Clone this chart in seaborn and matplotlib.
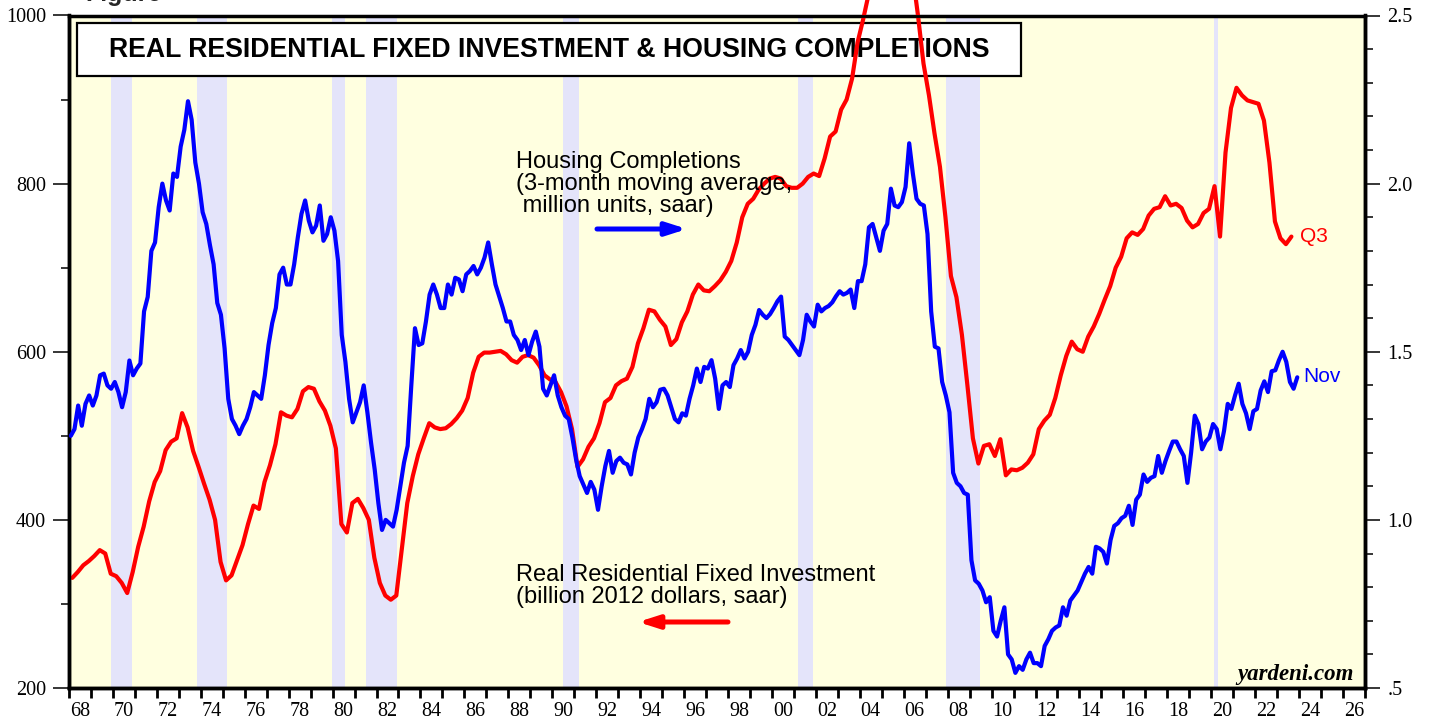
import numpy as np
import pandas as pd
import matplotlib
matplotlib.use("Agg")
import matplotlib.pyplot as plt
import seaborn as sns
from matplotlib.patches import Rectangle
from matplotlib.ticker import FixedLocator, FixedFormatter, NullFormatter

# ---------------- data ----------------
# Real residential fixed investment, quarterly, billion 2012 dollars (left axis)
rfi_1968_1977 = [331, 338, 346, 351, 357, 364, 360, 336, 333, 325, 313, 338,
                 368, 392, 422, 445, 458, 483, 493, 497, 527, 510, 482, 463,
                 443, 424, 400, 350, 328, 334, 352, 370, 395, 417, 413, 445,
                 465, 490, 528, 524]
rfi_1978_1987 = [522, 532, 553, 558, 556, 541, 530, 512, 485, 395, 385, 420,
                 425, 414, 400, 355, 325, 310, 305, 310, 365, 420, 452, 478,
                 497, 515, 510, 508, 509, 514, 521, 530, 545, 575, 594, 599,
                 599, 600, 601, 597]
rfi_1988_1997 = [590, 587, 594, 596, 593, 584, 572, 567, 564, 552, 535, 508,
                 463, 472, 487, 497, 515, 540, 545, 560, 565, 568, 582, 610,
                 628, 650, 648, 638, 630, 608, 615, 635, 648, 668, 680, 673,
                 672, 678, 685, 695]
rfi_1998_2007 = [708, 730, 760, 776, 782, 793, 800, 806, 808, 806, 797, 795,
                 795, 800, 808, 812, 809, 830, 856, 862, 888, 900, 925, 968,
                 995, 1025, 1050, 1070, 1085, 1095, 1100, 1095, 1080, 1050, 1000, 943,
                 905, 860, 820, 760]
rfi_2008_2017 = [690, 665, 620, 560, 497, 467, 488, 490, 476, 496, 453, 460,
                 459, 462, 468, 478, 508, 518, 525, 545, 572, 595, 612, 603,
                 600, 618, 630, 645, 662, 678, 700, 713, 735, 742, 739, 746,
                 762, 770, 772, 785]
rfi_2018_2023 = [774, 776, 771, 756, 748, 752, 765, 770, 797, 737, 837, 890,
                 914, 905, 899, 897, 895, 875, 825, 755, 735, 728, 737]

# Housing completions, 3-month moving average, million units saar (right axis),
# read every second month
hc_1968_1977 = [1.25, 1.27, 1.34, 1.28, 1.345, 1.37,
                1.34, 1.37, 1.43, 1.435, 1.40, 1.39,
                1.41, 1.38, 1.335, 1.38, 1.474, 1.43,
                1.45, 1.465, 1.62, 1.663, 1.80, 1.825,
                1.93, 2.00, 1.95, 1.92, 2.03, 2.02,
                2.11, 2.16, 2.245, 2.19, 2.063, 2.0,
                1.915, 1.88, 1.817, 1.76, 1.645, 1.61,
                1.51, 1.36, 1.30, 1.28, 1.255, 1.28,
                1.30, 1.335, 1.38, 1.37, 1.36, 1.43,
                1.52, 1.585, 1.63, 1.73, 1.75, 1.70]
hc_1978_1987 = [1.70, 1.76, 1.84, 1.91, 1.95, 1.89,
                1.855, 1.875, 1.935, 1.83, 1.85, 1.90,
                1.86, 1.77, 1.55, 1.47, 1.36, 1.29,
                1.32, 1.35, 1.40, 1.32, 1.23, 1.15,
                1.05, 0.97, 1.0, 0.99, 0.98, 1.03,
                1.10, 1.17, 1.22, 1.40, 1.57, 1.52,
                1.525, 1.59, 1.67, 1.70, 1.67, 1.63,
                1.63, 1.70, 1.67, 1.72, 1.715, 1.68,
                1.73, 1.74, 1.755, 1.73, 1.75, 1.78,
                1.825, 1.76, 1.70, 1.665, 1.63, 1.59]
hc_1988_1997 = [1.59, 1.55, 1.535, 1.505, 1.535, 1.49,
                1.53, 1.56, 1.515, 1.39, 1.37, 1.40,
                1.43, 1.37, 1.335, 1.31, 1.30, 1.245,
                1.18, 1.13, 1.105, 1.08, 1.113, 1.09,
                1.03, 1.10, 1.16, 1.205, 1.14, 1.175,
                1.185, 1.17, 1.165, 1.135, 1.20, 1.245,
                1.27, 1.30, 1.36, 1.335, 1.35, 1.387,
                1.39, 1.37, 1.335, 1.30, 1.29, 1.317,
                1.31, 1.36, 1.40, 1.45, 1.41, 1.455,
                1.45, 1.475, 1.42, 1.33, 1.40, 1.41]
hc_1998_2007 = [1.395, 1.46, 1.48, 1.505, 1.48, 1.50,
                1.55, 1.58, 1.624, 1.61, 1.60, 1.612,
                1.63, 1.65, 1.664, 1.545, 1.535, 1.52,
                1.505, 1.49, 1.535, 1.61, 1.59, 1.575,
                1.64, 1.62, 1.63, 1.636, 1.647, 1.665,
                1.68, 1.67, 1.675, 1.685, 1.63, 1.71,
                1.71, 1.76, 1.87, 1.88, 1.84, 1.80,
                1.86, 1.88, 1.985, 1.935, 1.93, 1.945,
                1.99, 2.12, 2.03, 1.955, 1.94, 1.935,
                1.85, 1.62, 1.515, 1.51, 1.41, 1.37]
hc_2008_2017 = [1.32, 1.14, 1.11, 1.10, 1.08, 1.075,
                0.88, 0.82, 0.81, 0.79, 0.755, 0.77,
                0.67, 0.653, 0.70, 0.74, 0.60, 0.585,
                0.545, 0.565, 0.554, 0.585, 0.605, 0.574,
                0.574, 0.565, 0.625, 0.645, 0.67, 0.68,
                0.686, 0.74, 0.715, 0.76, 0.775, 0.79,
                0.815, 0.84, 0.86, 0.84, 0.92, 0.915,
                0.905, 0.87, 0.94, 0.982, 0.99, 1.005,
                1.012, 1.042, 0.985, 1.06, 1.075, 1.135,
                1.113, 1.125, 1.13, 1.19, 1.14, 1.175]
hc_2018_2023 = [1.205, 1.233, 1.233, 1.21, 1.19, 1.11,
                1.20, 1.31, 1.285, 1.21, 1.233, 1.245,
                1.285, 1.27, 1.21, 1.265, 1.345, 1.33,
                1.37, 1.405, 1.345, 1.317, 1.27, 1.323,
                1.33, 1.385, 1.412, 1.38, 1.442, 1.445,
                1.475, 1.50, 1.47, 1.41, 1.39, 1.424]

# NBER recessions (decimal years)
recession_start = [1969.92, 1973.83, 1979.97, 1981.5, 1990.5, 2001.17, 2007.92, 2020.12]
recession_end = [1970.88, 1975.2, 1980.55, 1982.92, 1991.2, 2001.88, 2009.47, 2020.3]

year_ticks = list(range(1968, 2028))
year_labels = [f"{y % 100:02d}" for y in range(1968, 2027, 2)]
left_ticks = [200, 400, 600, 800, 1000]
right_ticks = [0.5, 1.0, 1.5, 2.0, 2.5]
right_labels = [".5", "1.0", "1.5", "2.0", "2.5"]

title = "REAL RESIDENTIAL FIXED INVESTMENT & HOUSING COMPLETIONS"
hc_note = "Housing Completions\n(3-month moving average,\n million units, saar)"
rfi_note = "Real Residential Fixed Investment\n(billion 2012 dollars, saar)"

# ---------------- build frames ----------------
rfi = rfi_1968_1977 + rfi_1978_1987 + rfi_1988_1997 + rfi_1998_2007 + rfi_2008_2017 + rfi_2018_2023
hc = hc_1968_1977 + hc_1978_1987 + hc_1988_1997 + hc_1998_2007 + hc_2008_2017 + hc_2018_2023
df_rfi = pd.DataFrame({"date": 1968.15 + 0.25 * np.arange(len(rfi)), "value": rfi})
df_hc = pd.DataFrame({"date": 1968 + (2 * np.arange(len(hc)) + 1) / 12.0, "value": hc})

# ---------------- style ----------------
sns.set_theme(style="ticks")
plt.rcParams["font.family"] = ["Liberation Sans", "DejaVu Sans"]

W, H = 1432, 719
fig = plt.figure(figsize=(W / 100, H / 100), dpi=100)
fig.patch.set_facecolor("white")
L, R, T, B = 69, 1365, 15.5, 688
ax = fig.add_axes([L / W, 1 - B / H, (R - L) / W, (B - T) / H])
ax.set_facecolor("#FFFFE0")

for s, e in zip(recession_start, recession_end):
    ax.axvspan(s, e, color="#E4E4FA", lw=0, zorder=0.5)

# title box
ax.add_patch(Rectangle(((77 - L) / (R - L), (B - 76) / (B - T)), (1021 - 77) / (R - L), 53 / (B - T),
                       transform=ax.transAxes, facecolor="white", edgecolor="black", lw=1.6, zorder=3))
ax.text((549 - L) / (R - L), (B - 50) / (B - T), title, transform=ax.transAxes, ha="center", va="center",
        fontsize=19.2, fontweight="bold", color="black", zorder=4)

sns.lineplot(data=df_rfi, x="date", y="value", ax=ax, color="#FF0000", linewidth=3.0,
             estimator=None, sort=False, clip_on=False, zorder=6)

ax.set_xlim(1968, 2027)
ax.set_ylim(200, 1000)
ax.set_xlabel("")
ax.set_ylabel("")

ax2 = ax.twinx()
sns.lineplot(data=df_hc, x="date", y="value", ax=ax2, color="#0000FF", linewidth=3.0,
             estimator=None, sort=False, zorder=6)
ax2.set_ylim(0.5, 2.5)
ax2.set_xlim(1968, 2027)
ax2.set_ylabel("")
ax2.set_xlabel("")

# ticks
serif = ["Liberation Serif", "DejaVu Serif"]
ax.xaxis.set_major_locator(FixedLocator(year_ticks))
ax.xaxis.set_major_formatter(NullFormatter())
ax.xaxis.set_minor_locator(FixedLocator([y + 0.5 for y in range(1968, 2027, 2)]))
ax.xaxis.set_minor_formatter(FixedFormatter(year_labels))
ax.tick_params(axis="x", which="major", direction="out", length=7, width=2, color="black")
ax.tick_params(axis="x", which="minor", length=0, pad=10, labelsize=14.5)

ax.yaxis.set_major_locator(FixedLocator(left_ticks))
ax.yaxis.set_minor_locator(FixedLocator([300, 500, 700, 900]))
ax.yaxis.set_minor_formatter(NullFormatter())
ax.tick_params(axis="y", which="major", direction="out", length=11.5, width=1.3, pad=5, labelsize=14.5)
ax.tick_params(axis="y", which="minor", direction="out", length=5.5, width=1.3)

ax2.yaxis.set_major_locator(FixedLocator(right_ticks))
ax2.yaxis.set_major_formatter(FixedFormatter(right_labels))
ax2.yaxis.set_minor_locator(FixedLocator([round(0.5 + 0.1 * i, 1) for i in range(1, 20) if i % 5]))
ax2.yaxis.set_minor_formatter(NullFormatter())
ax2.tick_params(axis="y", which="major", direction="out", length=11, width=1.3, pad=5, labelsize=14.5)
ax2.tick_params(axis="y", which="minor", direction="out", length=5.5, width=1.3)

for a in (ax, ax2):
    for lab in a.get_xticklabels(which="both") + a.get_yticklabels(which="both"):
        lab.set_fontfamily(serif)
        lab.set_color("black")
    for sp in a.spines.values():
        sp.set_linewidth(2.5)
        sp.set_color("black")
        sp.set_visible(True)
ax2.spines["top"].set_linewidth(2.0)

# annotations
def fx(px):
    return (px - L) / (R - L)

def fy(py):
    return (B - py) / (B - T)

ax2.text(fx(516), fy(184), hc_note, transform=ax2.transAxes, ha="left", va="center",
         fontsize=17, linespacing=1.0, color="black", zorder=7)
ax2.annotate("", xy=(fx(687), fy(229)), xytext=(fx(597), fy(229)), xycoords="axes fraction",
             textcoords="axes fraction",
             arrowprops=dict(arrowstyle="-|>,head_length=1.0,head_width=0.32", color="#0000FF",
                             lw=3.6, shrinkA=0, shrinkB=0))
ax2.text(fx(516), fy(586), rfi_note, transform=ax2.transAxes, ha="left", va="center",
         fontsize=17, linespacing=1.0, color="black", zorder=7)
ax2.annotate("", xy=(fx(638), fy(622)), xytext=(fx(728), fy(622)), xycoords="axes fraction",
             textcoords="axes fraction",
             arrowprops=dict(arrowstyle="-|>,head_length=1.0,head_width=0.32", color="#FF0000",
                             lw=3.6, shrinkA=0, shrinkB=0))
ax2.text(fx(1300), fy(237), "Q3", transform=ax2.transAxes, ha="left", va="center",
         fontsize=15, color="#FF0000")
ax2.text(fx(1303), fy(377), "Nov", transform=ax2.transAxes, ha="left", va="center",
         fontsize=15, color="#0000FF")
ax2.text(fx(1354), fy(680), "yardeni.com", transform=ax2.transAxes, ha="right", va="baseline",
         fontsize=16.5, fontweight="bold", fontstyle="italic", family=serif, color="black")

# header text that sits mostly above the top edge of the picture in the reference
fig.text(85 / W, 1 - 1.5 / H, "Figure", ha="left", va="baseline", fontsize=18, fontweight="bold")

fig.savefig("out.png", dpi=100, facecolor="white")
